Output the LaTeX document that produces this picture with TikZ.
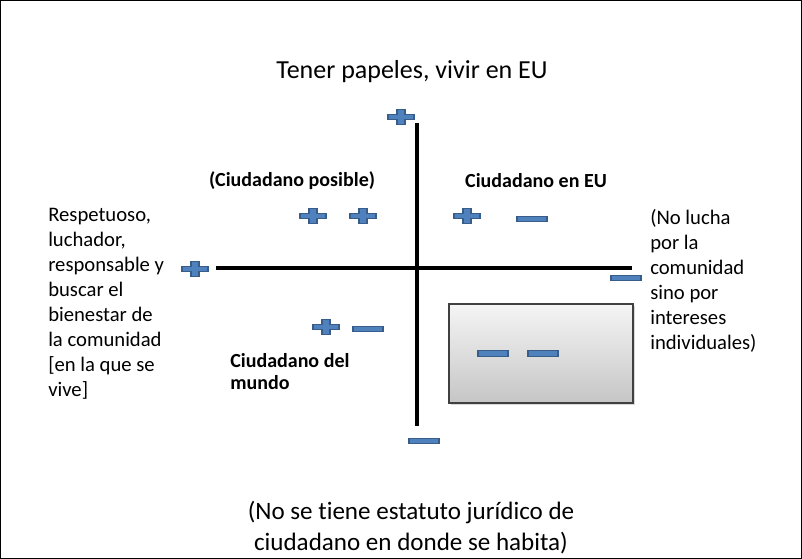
\documentclass[tikz,border=0pt]{standalone}
\usepackage{fontspec}
\setmainfont{Carlito}[Ligatures=NoCommon]
\usetikzlibrary{shadows}
\definecolor{signfill}{HTML}{4F81BD}
\definecolor{signdraw}{HTML}{385D8A}
\tikzset{
  sidetext/.style={font=\fontsize{15.5}{18.8}\selectfont, align=left, inner sep=0pt, anchor=north west},
  boldlabel/.style={font=\fontsize{15}{16.5}\selectfont\bfseries, inner sep=0pt},
  bigtext/.style={font=\fontsize{19.5}{23.3}\selectfont, align=center, inner sep=0pt},
  axis/.style={line width=2.3pt, black},
  signstyle/.style={fill=signfill, draw=signdraw, line width=0.9pt},
  plus/.pic={\path[signstyle] (-13,-2.8) -- (-4,-2.8) -- (-4,-7.5) -- (4,-7.5) -- (4,-2.8) -- (13,-2.8) -- (13,2.8) -- (4,2.8) -- (4,7.5) -- (-4,7.5) -- (-4,2.8) -- (-13,2.8) -- cycle;},
  minus/.pic={\path[signstyle] (-15,-2.8) rectangle (15,2.8);}
}
\begin{document}
\begin{tikzpicture}[x=0.75pt,y=-0.75pt]
\useasboundingbox (0,0) rectangle (802,559);
\draw[black, line width=0.8pt] (0.5,0.5) rectangle (801.5,558.5);

% axes
\coordinate (vtop) at (417,123);
\coordinate (vbot) at (417,426);
\coordinate (hleft) at (216,268);
\coordinate (hright) at (632,268);
\draw[axis, drop shadow={opacity=0.25, shadow xshift=1pt, shadow yshift=-1pt}] (vtop) -- (vbot);
\draw[axis, drop shadow={opacity=0.25, shadow xshift=1pt, shadow yshift=-1pt}] (hleft) -- (hright);

% box
\node[draw=black!75, line width=1.3pt, top color=gray!8, bottom color=gray!45, minimum width=184*0.75pt, minimum height=99*0.75pt, inner sep=0pt, drop shadow={opacity=0.3, shadow xshift=1.5pt, shadow yshift=-1.5pt}] (box) at (541,353.5) {};

% signs
\pic at (401,117) {plus};
\pic at (313,216) {plus};
\pic at (363,216) {plus};
\pic at (467,216) {plus};
\pic at (532,219) {minus};
\pic at (195,269) {plus};
\pic at (626,278) {minus};
\pic at (326,327) {plus};
\pic at (368,329) {minus};
\pic at (493,353.5) {minus};
\pic at (543,353.5) {minus};
\pic at (424,441) {minus};

% texts
\node[bigtext] (title) at (412,72) {Tener papeles, vivir en EU};
\node[boldlabel] (posible) at (292,181) {(Ciudadano posible)};
\node[boldlabel] (enEU) at (536,181) {Ciudadano en EU};
\node[boldlabel, align=left, anchor=north west] (mundo) at (230,353) {Ciudadano del\\mundo};
\node[sidetext] (left) at (48,208) {Respetuoso,\\luchador,\\responsable y\\buscar el\\bienestar de\\la comunidad\\{[}en la que se\\vive{]}};
\node[sidetext] (right) at (650,209) {(No lucha\\por la\\comunidad\\sino por\\intereses\\individuales)};
\node[bigtext, font=\fontsize{18.8}{23.3}\selectfont] (bottom) at (411,527.5) {(No se tiene estatuto jurídico de\\ciudadano en donde se habita)};
\end{tikzpicture}
\end{document}
